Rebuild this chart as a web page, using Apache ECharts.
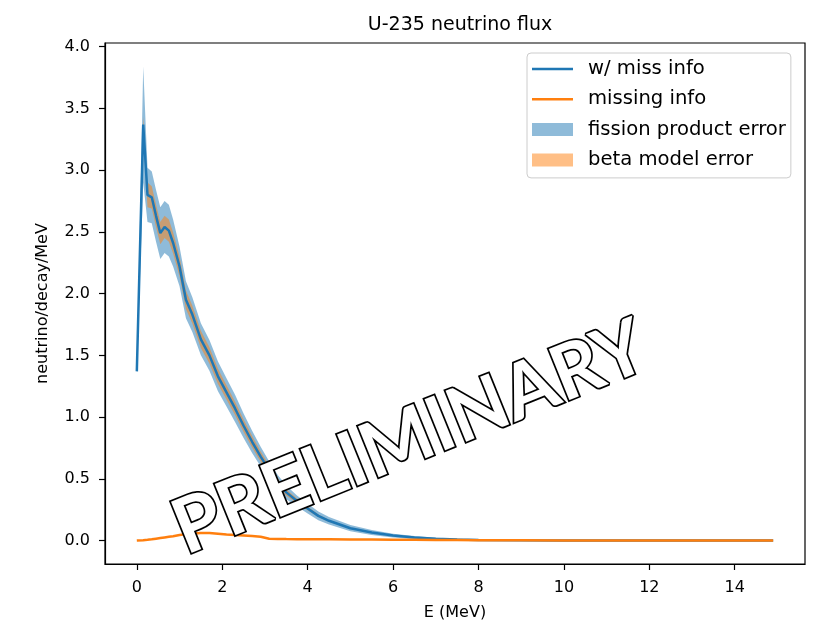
<!DOCTYPE html>
<html>
<head>
<meta charset="utf-8">
<script src="https://cdn.jsdelivr.net/npm/echarts@6/dist/echarts.min.js"></script>
<style>
html,body{margin:0;padding:0;background:#fff;}
#chart{width:816px;height:626px;}
</style>
</head>
<body>
<div id="chart"></div>
<script>
// ---- data ----
const energy   = [0, 0.15, 0.25, 0.35, 0.45, 0.55, 0.65, 0.75, 0.85, 1.0, 1.15, 1.3, 1.5, 1.7, 1.9, 2.1, 2.3, 2.5, 2.7, 2.9, 3.1, 3.3, 3.5, 3.75, 4.0, 4.25, 4.5, 5.0, 5.5, 6.0, 6.5, 7.0, 7.5, 8.0, 9.0, 10, 11, 12, 13, 14, 14.9];
const withMiss = [1.37, 3.37, 2.80, 2.78, 2.63, 2.49, 2.54, 2.51, 2.41, 2.22, 1.95, 1.83, 1.63, 1.50, 1.33, 1.20, 1.07, 0.93, 0.80, 0.68, 0.57, 0.47, 0.39, 0.32, 0.26, 0.20, 0.16, 0.10, 0.065, 0.04, 0.025, 0.015, 0.009, 0.005, 0.002, 0.001, 0.0005, 0.0002, 0.0001, 0, 0];
const fpErr    = [0, 0.47, 0.22, 0.21, 0.21, 0.21, 0.21, 0.21, 0.19, 0.16, 0.15, 0.14, 0.13, 0.125, 0.12, 0.115, 0.11, 0.10, 0.09, 0.08, 0.07, 0.06, 0.055, 0.045, 0.04, 0.035, 0.03, 0.025, 0.02, 0.015, 0.012, 0.008, 0.006, 0.004, 0.003, 0.002, 0.001, 0.001, 0.0005, 0, 0];
const betaErr  = [0, 0.06, 0.10, 0.09, 0.09, 0.09, 0.09, 0.09, 0.085, 0.08, 0.075, 0.072, 0.07, 0.066, 0.062, 0.058, 0.054, 0.05, 0.046, 0.042, 0.038, 0.032, 0.025, 0.02, 0.015, 0.01, 0.007, 0.004, 0.002, 0.001, 0, 0, 0, 0, 0, 0, 0, 0, 0, 0, 0];
const missing  = [0, 0.003, 0.006, 0.01, 0.015, 0.02, 0.025, 0.03, 0.035, 0.045, 0.052, 0.058, 0.062, 0.062, 0.055, 0.048, 0.044, 0.04, 0.036, 0.03, 0.015, 0.013, 0.012, 0.011, 0.011, 0.01, 0.01, 0.009, 0.008, 0.007, 0.006, 0.005, 0.004, 0.003, 0.002, 0.001, 0.001, 0, 0, 0, 0];
const xTicks = [0, 2, 4, 6, 8, 10, 12, 14];
const yTicks = [0, 0.5, 1.0, 1.5, 2.0, 2.5, 3.0, 3.5, 4.0];

const C0 = '#1f77b4', C1 = '#ff7f0e';
const C0A = 'rgba(31,119,180,0.5)', C1A = 'rgba(255,127,14,0.5)';
const FONT = 'DejaVu Sans';
const LINE_ICON = 'path://M0,0 M0,5.25 L41,5.25 L41,7.75 L0,7.75 Z M41,13';

const pts = arr => energy.map((x, i) => [x, arr[i]]);

// band drawn as one polygon through the axes' own coordinate mapping
function bandSeries(name, err, fill) {
  const rows = energy.map((x, i) => [x, withMiss[i] - err[i], withMiss[i] + err[i]]);
  return {
    name, type: 'custom', z: 1, silent: true,
    itemStyle: {color: fill},
    data: rows,
    encode: {x: 0, y: [1, 2]},
    renderItem: (params, api) => {
      if (params.dataIndex !== 0) return null;
      const up = rows.map(r => api.coord([r[0], r[2]]));
      const lo = rows.map(r => api.coord([r[0], r[1]])).reverse();
      return {type: 'polygon', shape: {points: up.concat(lo)}, style: {fill: fill}};
    }
  };
}

const chart = echarts.init(document.getElementById('chart'), null, {renderer: 'canvas'});

chart.setOption({
  animation: false,
  backgroundColor: '#fff',
  title: {
    text: 'U-235 neutrino flux',
    left: 455, top: 11, textAlign: 'center',
    textStyle: {fontFamily: FONT, fontSize: 19, fontWeight: 'normal', color: '#000'}
  },
  grid: {left: 105, right: 11, top: 43, bottom: 62, show: true, borderColor: '#000', borderWidth: 1.2, containLabel: false},
  legend: {
    left: 527, top: 53, orient: 'vertical',
    itemWidth: 41, itemHeight: 13, itemGap: 10.3,
    padding: [6, 5, 8, 5],
    backgroundColor: 'rgba(255,255,255,0.8)',
    borderColor: '#cccccc', borderWidth: 1, borderRadius: 4,
    textStyle: {fontFamily: FONT, fontSize: 19.6, color: '#000', padding: [0, 0, 0, 10]},
    data: [
      {name: 'w/ miss info', icon: LINE_ICON, itemStyle: {color: C0, borderWidth: 0}},
      {name: 'missing info', icon: LINE_ICON, itemStyle: {color: C1, borderWidth: 0}},
      {name: 'fission product error', icon: 'rect', itemStyle: {color: C0A, borderWidth: 0}},
      {name: 'beta model error', icon: 'rect', itemStyle: {color: C1A, borderWidth: 0}}
    ]
  },
  xAxis: {
    type: 'value', min: -0.745, max: 15.645,
    name: 'E (MeV)', nameLocation: 'middle', nameGap: 41,
    nameTextStyle: {fontFamily: FONT, fontSize: 16, color: '#000'},
    axisLine: {show: true, onZero: false, lineStyle: {color: '#000', width: 1.2}},
    axisTick: {show: true, length: 6, lineStyle: {color: '#000', width: 1.2}, customValues: xTicks},
    axisLabel: {fontFamily: FONT, fontSize: 16, color: '#000', margin: 16, customValues: xTicks,
      formatter: v => String(v)},
    splitLine: {show: false}
  },
  yAxis: {
    type: 'value', min: -0.19, max: 4.03,
    name: 'neutrino/decay/MeV', nameLocation: 'middle', nameGap: 54,
    nameTextStyle: {fontFamily: FONT, fontSize: 16, color: '#000'},
    axisLine: {show: true, onZero: false, lineStyle: {color: '#000', width: 1.2}},
    axisTick: {show: true, length: 6, lineStyle: {color: '#000', width: 1.2}, customValues: yTicks},
    axisLabel: {fontFamily: FONT, fontSize: 16, color: '#000', margin: 15, customValues: yTicks,
      formatter: v => v.toFixed(1)},
    splitLine: {show: false}
  },
  series: [
    bandSeries('fission product error', fpErr, C0A),
    bandSeries('beta model error', betaErr, C1A),
    {name: 'w/ miss info', type: 'line', data: pts(withMiss), symbol: 'none', showSymbol: false,
     itemStyle: {color: C0}, lineStyle: {color: C0, width: 2.5}, z: 3},
    {name: 'missing info', type: 'line', data: pts(missing), symbol: 'none', showSymbol: false,
     itemStyle: {color: C1}, lineStyle: {color: C1, width: 2.5}, z: 4}
  ],
  graphic: [{
    type: 'text', x: 410, y: 438, rotation: 22 * Math.PI / 180, z: 100,
    style: {
      text: 'PRELIMINARY', font: 'bold 76px Lato',
      fill: '#fff', stroke: '#000', lineWidth: 3.5, lineJoin: 'round',
      align: 'center', verticalAlign: 'middle'
    }
  }]
});
</script>
</body>
</html>
